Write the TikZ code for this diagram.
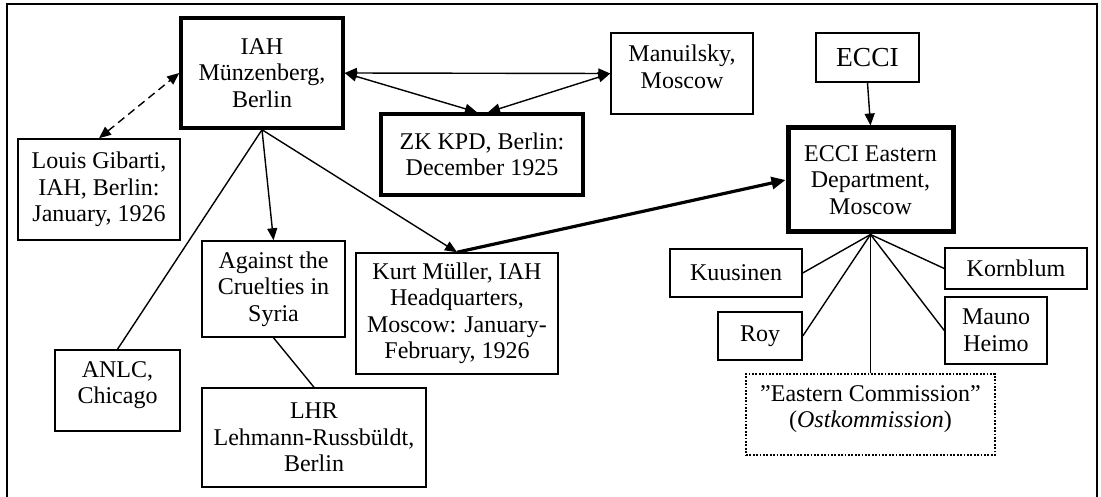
\documentclass[tikz,border=0pt]{standalone}
\usepackage{fontspec}
\setmainfont{Liberation Serif}
\usetikzlibrary{arrows.meta}
\begin{document}
\begin{tikzpicture}[x=1pt,y=-1pt,
  txt/.style={inner sep=0pt,align=center,font=\fontsize{24}{26.5}\selectfont},
  box/.style={txt,draw,line width=1.5pt,rectangle},
  thickbox/.style={box,line width=3.5pt},
  heavybox/.style={box,line width=5pt},
  dotbox/.style={box,line width=1.8pt,dash pattern=on 1.8pt off 1.6pt},
  conn/.style={line width=1.4pt},
  arr/.style={conn,-{Triangle[length=12pt,width=10pt]}},
  darr/.style={conn,{Triangle[length=12pt,width=10pt]}-{Triangle[length=12pt,width=10pt]}},
  bigarr/.style={line width=3.2pt,-{Triangle[length=14pt,width=12pt]}}
]
\useasboundingbox (0,0) rectangle (1101,497);
\draw[line width=2pt] (7,498) -- (7,4.5) -- (1097,4.5) -- (1097,498);

\node[thickbox,minimum width=162pt,minimum height=110pt] (iah) at (262,73) {IAH\\Münzenberg,\\Berlin};
\node[box,minimum width=162pt,minimum height=101pt] (gib) at (99,189.5) {Louis Gibarti,\\IAH, Berlin:\\January, 1926};
\node[box,minimum width=142pt,minimum height=81pt] (man) at (682,73.5) {};
\node[txt] (mantext) at (682,67) {Manuilsky,\\Moscow};
\node[thickbox,minimum width=202pt,minimum height=81pt] (zk) at (482,154.5) {ZK KPD, Berlin:\\December 1925};
\node[box,minimum width=103pt,minimum height=49pt,font=\fontsize{27.5}{30}\selectfont] (ecci) at (867.5,57.5) {ECCI};
\node[heavybox,minimum width=165pt,minimum height=104pt] (east) at (870.5,180) {ECCI Eastern\\Department,\\Moscow};
\node[box,minimum width=143pt,minimum height=96pt] (syr) at (273.5,289) {Against the\\Cruelties in\\Syria};
\node[box,minimum width=125pt,minimum height=81pt] (anlc) at (117.5,390.5) {};
\node[txt] (anlctext) at (117.5,385) {ANLC,\\Chicago};
\node[box,minimum width=224pt,minimum height=99pt] (lhr) at (314,437.5) {LHR\\Lehmann-Russbüldt,\\Berlin};
\node[box,minimum width=202pt,minimum height=121pt] (kurt) at (457,313.5) {Kurt Müller, IAH\\Headquarters,\\Moscow: January-\\February, 1926};
\node[box,minimum width=132pt,minimum height=48pt] (kuu) at (736,273) {Kuusinen};
\node[box,minimum width=84pt,minimum height=48pt] (roy) at (760,336) {Roy};
\node[box,minimum width=142pt,minimum height=41pt] (korn) at (1016,268.5) {Kornblum};
\node[box,minimum width=102pt,minimum height=67pt] (mauno) at (996,330.5) {Mauno\\Heimo};
\node[dotbox,minimum width=249pt,minimum height=81pt] (comm) at (870.5,414.5) {};
\node[txt] (commtext) at (870.5,409) {”Eastern Commission”\\(\textit{Ostkommission})};

\draw[darr,dash pattern=on 8pt off 5pt] (gib.north) -- (iah.west);
\draw[darr] (iah.east) -- (man.west);
\draw[darr] (iah.east) -- ([xshift=-5pt]zk.north);
\draw[darr] (man.west) -- ([xshift=6pt]zk.north);
\draw[arr] (iah.south) -- (syr.north);
\draw[conn] (iah.south) -- (anlc.north);
\draw[arr] (iah.south) -- (kurt.north);
\draw[bigarr] (kurt.north) -- (east.west);
\draw[conn] (syr.south) -- (lhr.north);
\draw[arr] (ecci.south) -- (east.north);
\draw[conn] (east.south) -- (kuu.east);
\draw[conn] (east.south) -- (roy.east);
\draw[conn] (east.south) -- (comm.north);
\draw[conn] (east.south) -- (korn.west);
\draw[conn] (east.south) -- (mauno.west);
\end{tikzpicture}
\end{document}
